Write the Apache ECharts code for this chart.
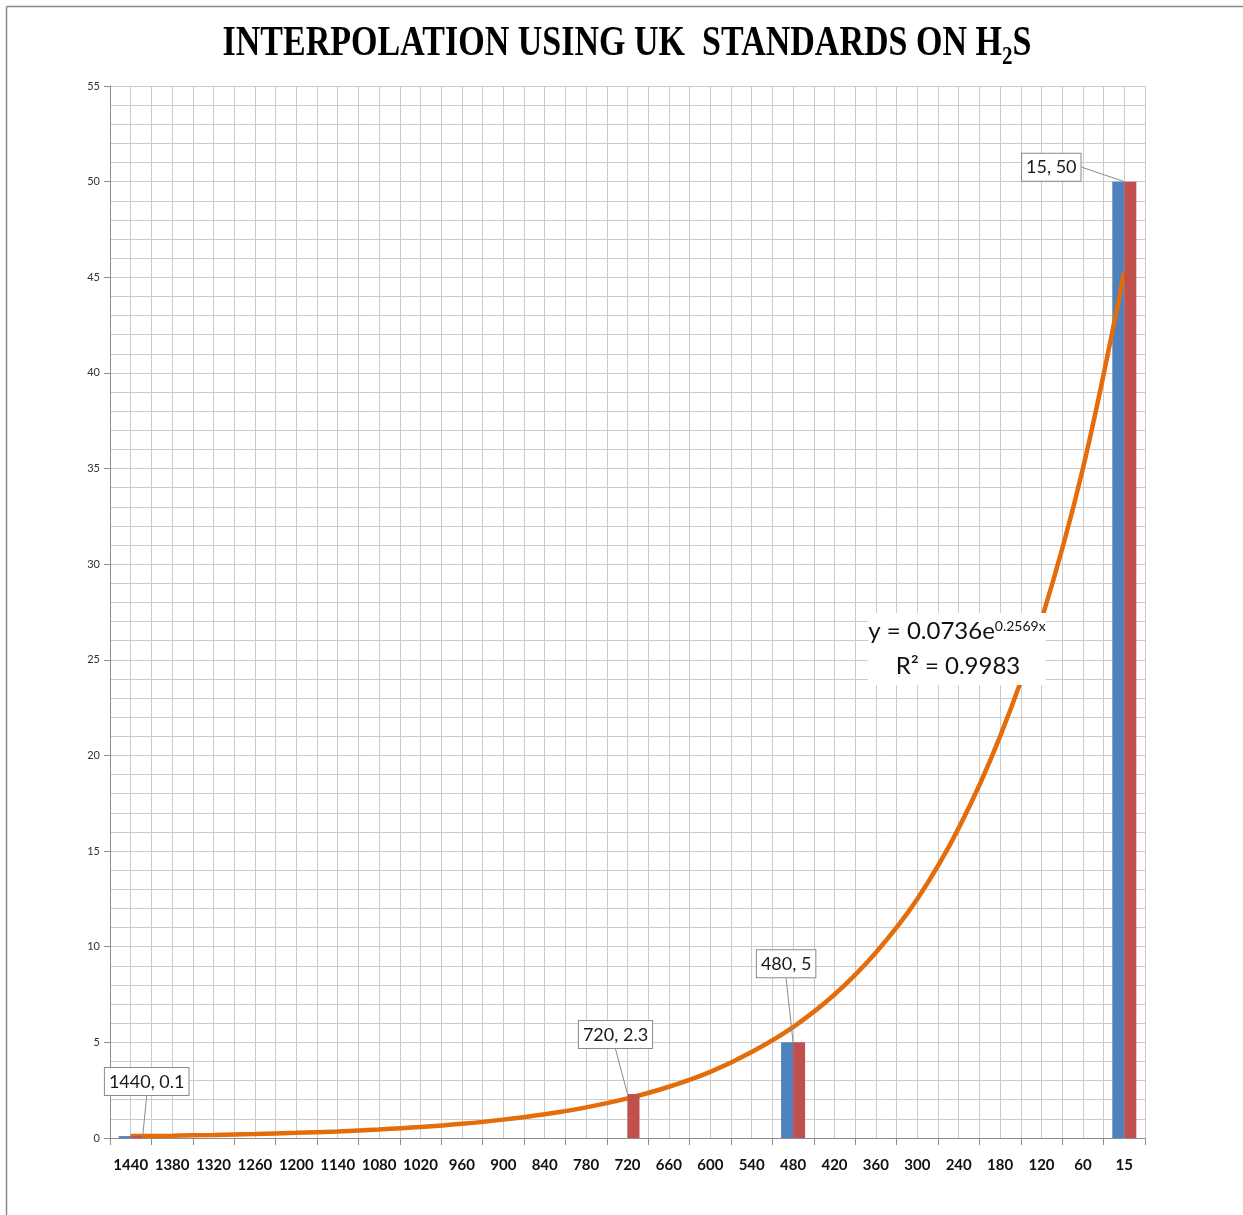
<!DOCTYPE html>
<html>
<head>
<meta charset="utf-8">
<script src="https://cdn.jsdelivr.net/npm/echarts@6/dist/echarts.min.js"></script>
<style>
html,body{margin:0;padding:0;background:#fff;}
#chart{width:1243px;height:1215px;}
</style>
</head>
<body>
<div id="chart"></div>
<script>
// ---- data ----
const categories = ['1440','1380','1320','1260','1200','1140','1080','1020','960','900','840','780','720','660','600','540','480','420','360','300','240','180','120','60','15'];
const blueValues = [0.1,null,null,null,null,null,null,null,null,null,null,null,null,null,null,null,5,null,null,null,null,null,null,null,50];
const redValues  = [0.1,null,null,null,null,null,null,null,null,null,null,null,2.3,null,null,null,5,null,null,null,null,null,null,null,50];
// exponential trend line, values at each category
const trendValues = [0.10,0.12,0.16,0.21,0.27,0.34,0.44,0.57,0.74,0.96,1.24,1.6,2.07,2.68,3.46,4.5,5.8,7.5,9.7,12.5,16.2,21,27.1,35,45.3];
const yTicks = [0,5,10,15,20,25,30,35,40,45,50,55];
const titleText = '{a|INTERPOLATION USING UK  STANDARDS ON H}{sub|2}{a|S}';
const equationLine1 = '{a|y = 0.0736e}{s|0.2569x}';
const equationLine2 = 'R² = 0.9983';

// ---- styles ----
const BLUE = '#4F81BD', RED = '#C0504D', ORANGE = '#E46C0A';
const GRID = '#cbcbcb', AXIS = '#8c8c8c';
const FONT = 'Lato, "Open Sans", sans-serif';
const SERIF = '"Liberation Serif", "Times New Roman", serif';
const calloutOffsets = {0:[10,-36], 12:[-18,-41], 16:[-13,-60], 24:[-79,4]};

const chart = echarts.init(document.getElementById('chart'));

const redData = redValues.map((v, i) => {
  if (v == null) return null;
  return {
    value: v,
    label: {
      show: true,
      position: 'top',
      formatter: categories[i] + ', ' + v,
      backgroundColor: '#fff',
      borderColor: '#8a8a8a',
      borderWidth: 1,
      padding: [5, 4, 4, 4],
      color: '#1a1a1a',
      fontSize: 18,
      fontFamily: FONT
    },
    labelLine: {show: true, lineStyle: {color: '#8a8a8a', width: 1}}
  };
});

const option = {
  animation: false,
  backgroundColor: '#fff',
  grid: {left: 110, right: 98, top: 86, bottom: 77, containLabel: false},
  xAxis: [{
    type: 'category',
    data: categories,
    boundaryGap: true,
    axisLine: {lineStyle: {color: AXIS, width: 1}},
    axisTick: {show: true, length: 7, lineStyle: {color: AXIS}},
    axisLabel: {interval: 0, color: '#111', fontWeight: 'bold', fontSize: 15, fontFamily: FONT, margin: 20},
    splitLine: {show: false}
  }, {
    type: 'value',
    min: 0, max: 50, interval: 1,
    position: 'top',
    axisLine: {show: false}, axisTick: {show: false}, axisLabel: {show: false},
    splitLine: {show: true, lineStyle: {color: GRID, width: 1}}
  }],
  yAxis: {
    type: 'value',
    min: yTicks[0], max: yTicks[yTicks.length - 1], interval: 5,
    axisLine: {show: true, lineStyle: {color: AXIS}},
    axisTick: {show: true, length: 6, lineStyle: {color: AXIS}},
    axisLabel: {color: '#333', fontSize: 11, fontFamily: FONT, margin: 10},
    splitLine: {show: true, lineStyle: {color: GRID, width: 1}},
    minorTick: {show: false, splitNumber: 5},
    minorSplitLine: {show: true, lineStyle: {color: GRID, width: 1}}
  },
  series: [{
    type: 'bar',
    name: 'blue',
    data: blueValues,
    itemStyle: {color: BLUE},
    barGap: '0%',
    barCategoryGap: '42%',
    z: 2
  }, {
    type: 'bar',
    name: 'red',
    data: redData,
    itemStyle: {color: RED},
    barGap: '0%',
    barCategoryGap: '42%',
    labelLayout: function (p) {
      const o = calloutOffsets[p.dataIndex] || [0, 0];
      return {dx: o[0], dy: o[1]};
    },
    z: 5
  }, {
    type: 'line',
    name: 'trend',
    data: trendValues,
    smooth: 0.35,
    symbol: 'none',
    lineStyle: {color: ORANGE, width: 4.5},
    z: 4
  }],
  graphic: [
    {type: 'line', shape: {x1: 6.5, y1: 6.5, x2: 1243, y2: 6.5}, style: {stroke: '#8a8a8a', lineWidth: 1.5}, z: 100},
    {type: 'line', shape: {x1: 6.5, y1: 6.5, x2: 6.5, y2: 1215}, style: {stroke: '#8a8a8a', lineWidth: 1.5}, z: 100},
    {
      type: 'text', x: 627, y: 47, scaleX: 0.81, z: 100,
      style: {
        text: titleText, textAlign: 'center', textVerticalAlign: 'middle', fill: '#000',
        rich: {
          a: {fontFamily: SERIF, fontWeight: 'bold', fontSize: 42, fill: '#000', verticalAlign: 'top'},
          sub: {fontFamily: SERIF, fontWeight: 'bold', fontSize: 26, fill: '#000', verticalAlign: 'top', padding: [21, 0, 0, 0]}
        }
      }
    },
    {type: 'rect', shape: {x: 868, y: 613, width: 178, height: 72}, style: {fill: '#fff'}, z: 50},
    {
      type: 'text', x: 957, y: 631, z: 51,
      style: {
        text: equationLine1, textAlign: 'center', textVerticalAlign: 'middle',
        rich: {
          a: {fontSize: 24, fontFamily: FONT, fill: '#111', verticalAlign: 'bottom'},
          s: {fontSize: 14, fontFamily: FONT, fill: '#111', verticalAlign: 'top'}
        }
      }
    },
    {
      type: 'text', x: 958, y: 666, z: 51,
      style: {text: equationLine2, textAlign: 'center', textVerticalAlign: 'middle', fontSize: 24, fontFamily: FONT, fill: '#111'}
    }
  ]
};
chart.setOption(option);
</script>
</body>
</html>
